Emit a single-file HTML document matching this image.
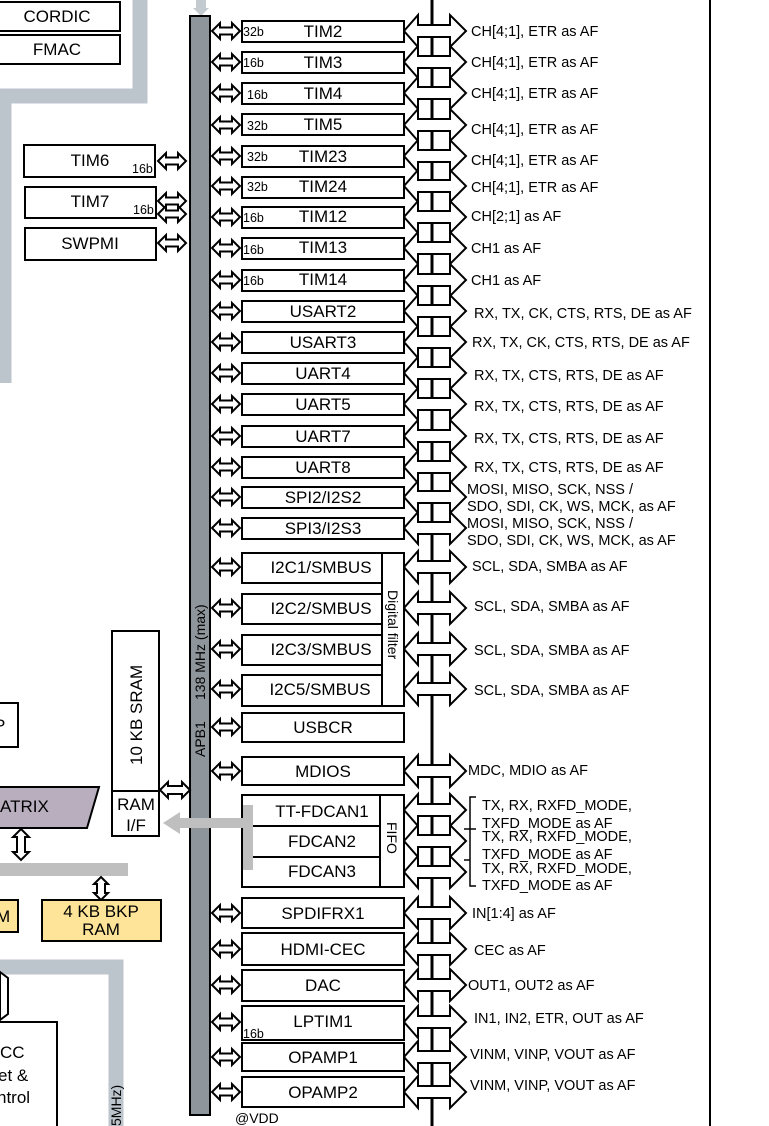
<!DOCTYPE html>
<html><head><meta charset="utf-8"><style>
html,body{margin:0;padding:0;background:#fff;}
svg{display:block;font-family:"Liberation Sans",Arial,sans-serif;}
.b{fill:#fff;stroke:#000;stroke-width:2}
.t{font-size:17px;text-anchor:middle}
.r{font-size:14.5px}
.s{font-size:12.5px}
</style></head><body>
<svg width="769" height="1126" viewBox="0 0 769 1126" xmlns="http://www.w3.org/2000/svg">
<defs>
<polygon id="la" points="212,0 220,-8 220,-3.5 232,-3.5 232,-8 240,0 232,8 232,3.5 220,3.5 220,8" fill="#fff" stroke="#000" stroke-width="2"/>
<polygon id="ra" points="404,0 418,-16 418,-6 450,-6 450,-16 466,0 450,16 450,6 418,6 418,16" fill="#fff" stroke="#000" stroke-width="2"/>
</defs>
<path d="M140,0 V96 H4 V383" fill="none" stroke="#bcc5cc" stroke-width="15"/>
<path d="M0,967 H116 V1126" fill="none" stroke="#bcc5cc" stroke-width="15"/>
<rect class="b" x="-2" y="2" width="122" height="29"/><text class="t" x="57" y="22">CORDIC</text>
<rect class="b" x="-2" y="35" width="122" height="29"/><text class="t" x="57" y="55">FMAC</text>
<rect class="b" x="24" y="145" width="131" height="32"/><text class="t" x="90" y="166">TIM6</text><text class="s" x="132" y="173">16b</text>
<rect class="b" x="25" y="187" width="131" height="31"/><text class="t" x="90" y="207">TIM7</text><text class="s" x="133" y="214">16b</text>
<rect class="b" x="25" y="228" width="131" height="32"/><text class="t" x="90" y="249">SWPMI</text>
<use href="#la" transform="translate(-54,161)"/>
<use href="#la" transform="translate(-54,201)"/>
<use href="#la" transform="translate(-54,214)"/>
<use href="#la" transform="translate(-54,243)"/>
<polygon points="196,0 206,0 206,8 209,8 201,16 193,8 196,8" fill="#c3cbd1"/>
<rect x="190" y="16" width="20" height="1099" fill="#8e959b" stroke="#000" stroke-width="2"/>
<text transform="translate(205,757) rotate(-90)" font-size="14">APB1</text>
<text transform="translate(205,700) rotate(-90)" font-size="14">138 MHz (max)</text>
<line x1="432" y1="0" x2="432" y2="1126" stroke="#000" stroke-width="3"/>
<line x1="710" y1="0" x2="710" y2="1126" stroke="#000" stroke-width="2"/>
<use href="#ra" transform="translate(0,31)"/><use href="#ra" transform="translate(0,62)"/><use href="#ra" transform="translate(0,93)"/><use href="#ra" transform="translate(0,125)"/><use href="#ra" transform="translate(0,156)"/><use href="#ra" transform="translate(0,186)"/><use href="#ra" transform="translate(0,217)"/><use href="#ra" transform="translate(0,248)"/><use href="#ra" transform="translate(0,280)"/><use href="#ra" transform="translate(0,311)"/><use href="#ra" transform="translate(0,342)"/><use href="#ra" transform="translate(0,373)"/><use href="#ra" transform="translate(0,404)"/><use href="#ra" transform="translate(0,436)"/><use href="#ra" transform="translate(0,467)"/><use href="#ra" transform="translate(0,497)"/><use href="#ra" transform="translate(0,528)"/><use href="#ra" transform="translate(0,567)"/><use href="#ra" transform="translate(0,608)"/><use href="#ra" transform="translate(0,649)"/><use href="#ra" transform="translate(0,689)"/><use href="#ra" transform="translate(0,771)"/><use href="#ra" transform="translate(0,810)"/><use href="#ra" transform="translate(0,841)"/><use href="#ra" transform="translate(0,872)"/><use href="#ra" transform="translate(0,913)"/><use href="#ra" transform="translate(0,949)"/><use href="#ra" transform="translate(0,985)"/><use href="#ra" transform="translate(0,1022)"/><use href="#ra" transform="translate(0,1057)"/><use href="#ra" transform="translate(0,1092)"/>
<use href="#la" transform="translate(0,31)"/><use href="#la" transform="translate(0,62)"/><use href="#la" transform="translate(0,93)"/><use href="#la" transform="translate(0,125)"/><use href="#la" transform="translate(0,156)"/><use href="#la" transform="translate(0,186)"/><use href="#la" transform="translate(0,217)"/><use href="#la" transform="translate(0,248)"/><use href="#la" transform="translate(0,280)"/><use href="#la" transform="translate(0,311)"/><use href="#la" transform="translate(0,342)"/><use href="#la" transform="translate(0,373)"/><use href="#la" transform="translate(0,404)"/><use href="#la" transform="translate(0,436)"/><use href="#la" transform="translate(0,467)"/><use href="#la" transform="translate(0,497)"/><use href="#la" transform="translate(0,528)"/><use href="#la" transform="translate(0,567)"/><use href="#la" transform="translate(0,608)"/><use href="#la" transform="translate(0,649)"/><use href="#la" transform="translate(0,689)"/><use href="#la" transform="translate(0,727)"/><use href="#la" transform="translate(0,771)"/><use href="#la" transform="translate(0,913)"/><use href="#la" transform="translate(0,949)"/><use href="#la" transform="translate(0,985)"/><use href="#la" transform="translate(0,1022)"/><use href="#la" transform="translate(0,1057)"/><use href="#la" transform="translate(0,1092)"/>
<g>
<rect class="b" x="242" y="21" width="162" height="21"/><text class="t" x="323" y="37">TIM2</text><text class="s" x="243" y="36">32b</text>
<rect class="b" x="242" y="52" width="162" height="21"/><text class="t" x="323" y="68">TIM3</text><text class="s" x="243" y="67">16b</text>
<rect class="b" x="242" y="83" width="162" height="21"/><text class="t" x="323" y="99">TIM4</text><text class="s" x="247" y="99">16b</text>
<rect class="b" x="242" y="114" width="162" height="21"/><text class="t" x="323" y="130">TIM5</text><text class="s" x="247" y="130">32b</text>
<rect class="b" x="242" y="146" width="162" height="21"/><text class="t" x="323" y="162">TIM23</text><text class="s" x="247" y="161">32b</text>
<rect class="b" x="242" y="177" width="162" height="21"/><text class="t" x="323" y="192">TIM24</text><text class="s" x="247" y="191">32b</text>
<rect class="b" x="242" y="207" width="162" height="21"/><text class="t" x="323" y="222">TIM12</text><text class="s" x="243" y="222">16b</text>
<rect class="b" x="242" y="238" width="162" height="21"/><text class="t" x="323" y="253">TIM13</text><text class="s" x="243" y="254">16b</text>
<rect class="b" x="242" y="270" width="162" height="21"/><text class="t" x="323" y="285">TIM14</text><text class="s" x="243" y="285">16b</text>
<rect class="b" x="242" y="301" width="162" height="21"/><text class="t" x="323" y="317">USART2</text>
<rect class="b" x="242" y="332" width="162" height="21"/><text class="t" x="323" y="348">USART3</text>
<rect class="b" x="242" y="363" width="162" height="21"/><text class="t" x="323" y="379">UART4</text>
<rect class="b" x="242" y="394" width="162" height="21"/><text class="t" x="323" y="410">UART5</text>
<rect class="b" x="242" y="426" width="162" height="21"/><text class="t" x="323" y="442">UART7</text>
<rect class="b" x="242" y="457" width="162" height="21"/><text class="t" x="323" y="473">UART8</text>
<rect class="b" x="242" y="487" width="162" height="21"/><text class="t" x="323" y="503">SPI2/I2S2</text>
<rect class="b" x="242" y="518" width="162" height="21"/><text class="t" x="323" y="534">SPI3/I2S3</text>
<rect class="b" x="242" y="553" width="140" height="30"/><text class="t" x="321" y="573">I2C1/SMBUS</text>
<rect class="b" x="242" y="594" width="140" height="30"/><text class="t" x="321" y="614">I2C2/SMBUS</text>
<rect class="b" x="242" y="635" width="140" height="30"/><text class="t" x="321" y="655">I2C3/SMBUS</text>
<rect class="b" x="242" y="675" width="140" height="31"/><text class="t" x="320" y="695">I2C5/SMBUS</text>
<rect class="b" x="382" y="553" width="22" height="153"/><text transform="translate(388,590) rotate(90)" font-size="14">Digital filter</text>
<rect class="b" x="242" y="713" width="162" height="29"/><text class="t" x="323" y="733">USBCR</text>
<rect class="b" x="242" y="757" width="162" height="28"/><text class="t" x="323" y="777">MDIOS</text>
<rect class="b" x="242" y="795" width="162" height="92"/>
<line x1="242" y1="826" x2="380" y2="826" stroke="#000" stroke-width="2"/>
<line x1="242" y1="857" x2="380" y2="857" stroke="#000" stroke-width="2"/>
<line x1="380" y1="795" x2="380" y2="887" stroke="#000" stroke-width="2"/>
<text class="t" x="322" y="817">TT-FDCAN1</text><text class="t" x="322" y="847">FDCAN2</text><text class="t" x="322" y="877">FDCAN3</text>
<text transform="translate(387,822) rotate(90)" font-size="14">FIFO</text>
<rect x="243" y="805" width="10" height="65" fill="#bfbfbf"/>
<rect x="178" y="818" width="66" height="10" fill="#bfbfbf"/>
<polygon points="163,823 180,812 180,834" fill="#bfbfbf"/>
<rect class="b" x="242" y="898" width="162" height="30"/><text class="t" x="323" y="919">SPDIFRX1</text>
<rect class="b" x="242" y="933" width="162" height="32"/><text class="t" x="323" y="955">HDMI-CEC</text>
<rect class="b" x="242" y="970" width="162" height="31"/><text class="t" x="323" y="991">DAC</text>
<rect class="b" x="242" y="1006" width="162" height="34"/><text class="t" x="323" y="1027">LPTIM1</text><text class="s" x="243" y="1038">16b</text>
<rect class="b" x="242" y="1043" width="162" height="28"/><text class="t" x="323" y="1063">OPAMP1</text>
<rect class="b" x="242" y="1077" width="162" height="30"/><text class="t" x="323" y="1098">OPAMP2</text>
<text x="235" y="1123" font-size="14">@VDD</text>
</g>
<g class="r">
<text x="471" y="36">CH[4;1], ETR as AF</text>
<text x="471" y="67">CH[4;1], ETR as AF</text>
<text x="471" y="98">CH[4;1], ETR as AF</text>
<text x="471" y="134">CH[4;1], ETR as AF</text>
<text x="471" y="165">CH[4;1], ETR as AF</text>
<text x="471" y="192">CH[4;1], ETR as AF</text>
<text x="471" y="221">CH[2;1] as AF</text>
<text x="471" y="253">CH1 as AF</text>
<text x="471" y="285">CH1 as AF</text>
<text x="474" y="318">RX, TX, CK, CTS, RTS, DE as AF</text>
<text x="472" y="347">RX, TX, CK, CTS, RTS, DE as AF</text>
<text x="474" y="380">RX, TX, CTS, RTS, DE as AF</text>
<text x="474" y="411">RX, TX, CTS, RTS, DE as AF</text>
<text x="474" y="443">RX, TX, CTS, RTS, DE as AF</text>
<text x="474" y="472">RX, TX, CTS, RTS, DE as AF</text>
<text x="467" y="494">MOSI, MISO, SCK, NSS /</text>
<text x="467" y="511">SDO, SDI, CK, WS, MCK, as AF</text>
<text x="467" y="528">MOSI, MISO, SCK, NSS /</text>
<text x="467" y="545">SDO, SDI, CK, WS, MCK, as AF</text>
<text x="472" y="571">SCL, SDA, SMBA as AF</text>
<text x="474" y="611">SCL, SDA, SMBA as AF</text>
<text x="474" y="655">SCL, SDA, SMBA as AF</text>
<text x="474" y="695">SCL, SDA, SMBA as AF</text>
<text x="468" y="775">MDC, MDIO as AF</text>
<text x="482" y="810">TX, RX, RXFD_MODE,</text>
<text x="482" y="828">TXFD_MODE as AF</text>
<text x="482" y="841">TX, RX, RXFD_MODE,</text>
<text x="482" y="859">TXFD_MODE as AF</text>
<text x="482" y="873">TX, RX, RXFD_MODE,</text>
<text x="482" y="890">TXFD_MODE as AF</text>
<text x="472" y="918">IN[1:4] as AF</text>
<text x="474" y="955">CEC as AF</text>
<text x="468" y="990">OUT1, OUT2 as AF</text>
<text x="474" y="1023">IN1, IN2, ETR, OUT as AF</text>
<text x="470" y="1059">VINM, VINP, VOUT as AF</text>
<text x="470" y="1090">VINM, VINP, VOUT as AF</text>
</g>
<path d="M476,797 H470 V829 H464 M470,829 V860 H464 M470,860 V886 H476 M470,829 H476" fill="none" stroke="#000" stroke-width="1.5"/>
<rect class="b" x="112" y="631" width="47" height="160"/>
<text transform="translate(142,765) rotate(-90)" font-size="17">10 KB SRAM</text>
<rect class="b" x="112" y="791" width="47" height="45"/>
<text class="t" x="136" y="810">RAM</text><text class="t" x="136" y="831">I/F</text>
<polygon points="160,790 168,782 168,786 182,786 182,782 190,790 182,798 182,794 168,794 168,798" fill="#fff" stroke="#000" stroke-width="2"/>
<rect class="b" x="-5" y="703" width="23" height="44"/><text x="-6" y="731" font-size="17">P</text>
<polygon points="-2,787 99,787 87,828 -2,828" fill="#b9aebd" stroke="#000" stroke-width="2"/>
<text x="0" y="812" font-size="17">ATRIX</text>
<polygon points="21,829 29,837 25,837 25,852 29,852 21,860 13,852 17,852 17,837 13,837" fill="#fff" stroke="#000" stroke-width="2"/>
<rect x="0" y="863" width="128" height="13" fill="#bfbfbf"/>
<polygon points="101,877 108,884 105,884 105,893 108,893 101,900 94,893 97,893 97,884 94,884" fill="#fff" stroke="#000" stroke-width="2"/>
<rect x="-4" y="900" width="22" height="32" fill="#fde498" stroke="#000" stroke-width="2"/><text x="-4" y="922" font-size="17">M</text>
<rect x="42" y="900" width="119" height="41" fill="#fde498" stroke="#000" stroke-width="2"/>
<text class="t" x="101" y="917">4 KB BKP</text><text class="t" x="101" y="935">RAM</text>
<rect class="b" x="-4" y="1022" width="61" height="110"/>
<text x="0" y="1058" font-size="17">CC</text><text x="-2" y="1081" font-size="17">et &amp;</text><text x="-3" y="1103" font-size="17">ntrol</text>
<polygon points="0,972 8,978 8,1014 0,1020" fill="#fff" stroke="#000" stroke-width="2"/>
<text transform="translate(121,1126) rotate(-90)" font-size="14">5MHz)</text>
</svg>
</body></html>
